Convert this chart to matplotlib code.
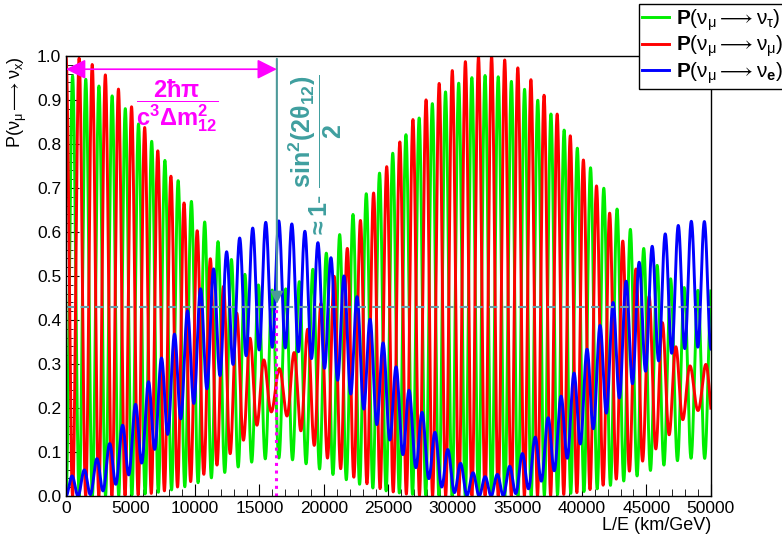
import matplotlib
matplotlib.use("Agg")
import matplotlib.pyplot as plt
from matplotlib.ticker import MultipleLocator
import numpy as np

plt.rcParams['font.family'] = ['Liberation Sans', 'DejaVu Sans']
plt.rcParams['mathtext.fontset'] = 'custom'
plt.rcParams['mathtext.rm'] = 'Liberation Sans'
plt.rcParams['mathtext.it'] = 'Liberation Sans'
plt.rcParams['mathtext.bf'] = 'Liberation Sans:bold'

# NOTE: the three curves are not tabulated point by point (each has ~50 fast
# oscillations); they are computed with the standard 3-flavour vacuum
# oscillation formula from the parameters below, which were read off the chart
# (fast period ~1000 km/GeV, slow half period ~16350 km/GeV, peak heights).
theta12 = 33.8   # deg
theta13 = 8.6    # deg
theta23 = 45.0   # deg
dm21 = 7.6e-5    # eV^2
dm31 = 2.48e-3   # eV^2

x_min, x_max = 0, 50000
x_half = 16350       # end of the 2hbar pi / c^3 dm12^2 arrow
y_line = 0.43        # dashed horizontal level

labels = [r'$\mathbf{P}(\nu_\mu \longrightarrow \nu_\tau)$',
          r'$\mathbf{P}(\nu_\mu \longrightarrow \nu_\mu)$',
          r'$\mathbf{P}(\nu_\mu \longrightarrow \nu_\mathbf{e})$']
colors = ['#00ee00', '#ff0000', '#0000ff']


def pmns(t12, t13, t23):
    s12, c12 = np.sin(np.radians(t12)), np.cos(np.radians(t12))
    s13, c13 = np.sin(np.radians(t13)), np.cos(np.radians(t13))
    s23, c23 = np.sin(np.radians(t23)), np.cos(np.radians(t23))
    return np.array([
        [c12 * c13, s12 * c13, s13],
        [-s12 * c23 - c12 * s23 * s13, c12 * c23 - s12 * s23 * s13, s23 * c13],
        [s12 * s23 - c12 * c23 * s13, -c12 * s23 - s12 * c23 * s13, c23 * c13]])


def prob(U, a, b, LE):
    dm = {(1, 0): dm21, (2, 0): dm31, (2, 1): dm31 - dm21}
    p = np.full_like(LE, 1.0 if a == b else 0.0)
    for (i, j), d in dm.items():
        re = U[a, i] * U[b, i] * U[a, j] * U[b, j]
        p -= 4 * re * np.sin(1.267 * d * LE) ** 2
    return p


U = pmns(theta12, theta13, theta23)
LE = np.linspace(x_min, x_max, 40000)
curves = [prob(U, 1, 2, LE), prob(U, 1, 1, LE), prob(U, 1, 0, LE)]

fig = plt.figure(figsize=(7.82, 5.35), dpi=100)
ax = fig.add_axes([0.0844, 0.0729, 0.8246, 0.8224])

for y, c, lab in zip(curves, colors, labels):
    ax.plot(LE, y, color=c, lw=2.1, label=lab)

ax.set_xlim(x_min, x_max)
ax.set_ylim(0, 1.0)
ax.xaxis.set_major_locator(MultipleLocator(5000))
ax.xaxis.set_minor_locator(MultipleLocator(1000))
ax.yaxis.set_major_locator(MultipleLocator(0.1))
ax.yaxis.set_minor_locator(MultipleLocator(0.02))
ax.yaxis.set_major_formatter(matplotlib.ticker.FormatStrFormatter('%.1f'))
ax.tick_params(which='both', direction='in', labelsize=12.5)
ax.tick_params(which='major', length=9)
ax.tick_params(which='minor', length=5)
for s in ax.spines.values():
    s.set_linewidth(1.0)

ax.set_xlabel('L/E (km/GeV)', fontsize=13, loc='right', labelpad=1)
ax.set_ylabel(r'P($\nu_\mu \longrightarrow \nu_x$)', fontsize=13, loc='top', labelpad=6)

# horizontal dashed level and vertical markers
ax.axhline(y_line, color='#6a9fa8', lw=1.5, ls=(0, (4, 3)))
ax.plot([x_half - 80, x_half - 80], [0, y_line], color='#ff00ff', lw=2.2, ls=(0, (1, 1.5)))
ax.annotate('', xy=(x_half, y_line), xytext=(x_half, 1.0),
            arrowprops=dict(arrowstyle='-|>', color='#4d9a9a', lw=1.5, mutation_scale=18))
ax.annotate('', xy=(x_half, 0.97), xytext=(0, 0.97),
            arrowprops=dict(arrowstyle='<|-|>', color='#ff00ff', lw=1.2, mutation_scale=30,
                            shrinkA=0, shrinkB=0))
ax.text(8600, 0.888, r'$\mathbf{\dfrac{2\hbar\pi}{c^3\Delta m^2_{12}}}$', color='#ff00ff',
        fontsize=17, ha='center', va='center')
ax.text(19300, 0.77, r'$\mathbf{\approx 1\text{-}\ \dfrac{sin^2(2\theta_{12})}{2}}$',
        color='#3f9f9f', fontsize=18, rotation=90, ha='center', va='center')

leg = fig.legend(loc='upper right', bbox_to_anchor=(1.005, 0.992), fontsize=15,
                 frameon=True, fancybox=False, edgecolor='black', framealpha=1,
                 handlelength=1.3, handletextpad=0.3, labelspacing=0.05, borderpad=0.15,
                 borderaxespad=0)
leg.get_frame().set_linewidth(1.0)

fig.savefig('out.png', dpi=100)
